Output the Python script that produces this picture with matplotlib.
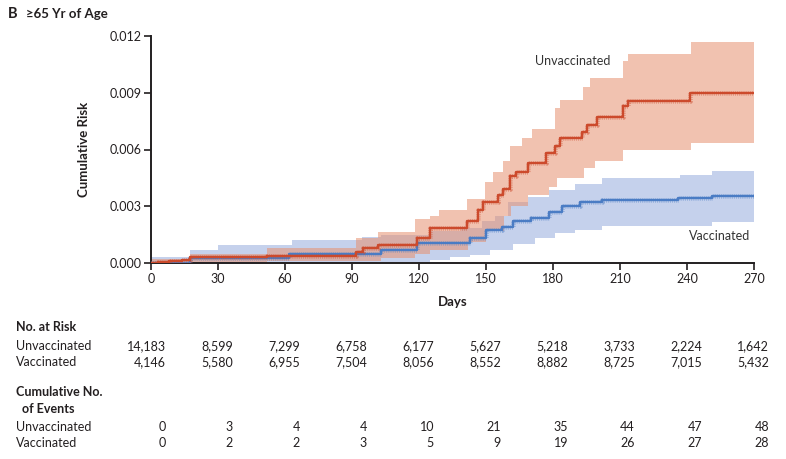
import matplotlib
matplotlib.use("Agg")
import matplotlib.pyplot as plt
import matplotlib.transforms as mtransforms

plt.rcParams['font.family'] = ['Lato', 'DejaVu Sans']

# ---------------- data ----------------
days_ticks = [0, 30, 60, 90, 120, 150, 180, 210, 240, 270]
risk_ticks = [0.000, 0.003, 0.006, 0.009, 0.012]

unvax_t = [0, 3, 8, 14, 17.5, 52, 92, 95, 101.5, 119, 125, 141.5, 146.5, 148.7, 155.5,
           157.6, 160.6, 163.6, 168.8, 177, 181, 183, 193, 195, 199.5, 211.5, 213.5, 241.5, 270]
unvax_v = [0, 0.00005, 0.0001, 0.00017, 0.0003, 0.00037, 0.0006, 0.0008, 0.00095, 0.0013,
           0.00185, 0.0022, 0.0028, 0.0032, 0.0036, 0.0039, 0.0046, 0.0048, 0.0053, 0.0058,
           0.0062, 0.0066, 0.0069, 0.0073, 0.0077, 0.0083, 0.00858, 0.0090, 0.0090]

unvax_up_t = [0, 17.5, 52, 92, 101.5, 118, 125, 129, 141.5, 149.6, 153, 157.6, 160.8, 166,
              170.5, 181, 183, 193.5, 196.6, 211.5, 213.6, 241.7, 270]
unvax_up_v = [0.0002, 0.00048, 0.00078, 0.0013, 0.00165, 0.0023, 0.0025, 0.0028, 0.0034,
              0.0043, 0.0048, 0.0054, 0.0062, 0.0066, 0.0071, 0.0082, 0.0086, 0.0093, 0.0098,
              0.0107, 0.01105, 0.01167, 0.01167]

unvax_lo_t = [0, 17.5, 52, 92, 103, 118, 125, 142, 150, 158, 161, 169, 178, 182, 194, 199,
              211.5, 241.7, 270]
unvax_lo_v = [0, 0.00005, 0.0001, 0.0001, 0.00026, 0.0005, 0.0007, 0.0011, 0.0017, 0.0025,
              0.0030, 0.0036, 0.0040, 0.0045, 0.0050, 0.0054, 0.0060, 0.00636, 0.00636]

vax_t = [0, 17.5, 62, 103, 119, 143, 150, 157, 162, 170, 178, 184, 192, 201.8, 236, 251, 270]
vax_v = [0, 0.00025, 0.0005, 0.0007, 0.00105, 0.0013, 0.00175, 0.0019, 0.0022, 0.0024,
         0.0027, 0.0030, 0.0032, 0.00333, 0.00342, 0.00356, 0.00356]

vax_up_t = [0, 17.5, 30, 63, 94.3, 103, 125, 139, 148, 154, 160, 169, 178, 190, 202, 237,
            251, 270]
vax_up_v = [0.00033, 0.0007, 0.00095, 0.0012, 0.0014, 0.0015, 0.0017, 0.00185, 0.0022,
            0.0025, 0.0032, 0.0035, 0.00386, 0.0042, 0.00448, 0.00465, 0.00488, 0.00488]

vax_lo_t = [0, 90, 101, 125, 134, 143, 152, 162, 172, 181, 190, 202, 251, 270]
vax_lo_v = [0, 0, 0.00005, 0.00016, 0.0003, 0.0004, 0.0007, 0.0010, 0.0013, 0.0016,
            0.00175, 0.00196, 0.00218, 0.00218]

at_risk_unvax = ["14,183", "8,599", "7,299", "6,758", "6,177", "5,627", "5,218", "3,733", "2,224", "1,642"]
at_risk_vax = ["4,146", "5,580", "6,955", "7,504", "8,056", "8,552", "8,882", "8,725", "7,015", "5,432"]
events_unvax = ["0", "3", "4", "4", "10", "21", "35", "44", "47", "48"]
events_vax = ["0", "2", "2", "3", "5", "9", "19", "26", "27", "28"]

# ---------------- figure ----------------
W, H = 786, 459
fig = plt.figure(figsize=(W / 100, H / 100), dpi=100)
ax = fig.add_axes([151 / W, 1 - 263 / H, (754 - 151) / W, (263 - 36) / H])

txt = '#231f20'
red_line = '#cc4a2c'
red_fill = '#e6906f'
blue_line = '#4a7cc4'
blue_fill = '#90a8dc'


def band(t_up, v_up, t_lo, v_lo, color, alpha, z):
    ts = sorted(set(t_up) | set(t_lo))
    up = [v_up[max(i for i, tt in enumerate(t_up) if tt <= t)] for t in ts]
    lo = [v_lo[max(i for i, tt in enumerate(t_lo) if tt <= t)] for t in ts]
    ax.fill_between(ts, lo, up, step='post', color=color, alpha=alpha, lw=0, zorder=z)


band(vax_up_t, vax_up_v, vax_lo_t, vax_lo_v, blue_fill, 0.52, 1)
band(unvax_up_t, unvax_up_v, unvax_lo_t, unvax_lo_v, red_fill, 0.55, 2)

for t, v, c, z in [(vax_t, vax_v, blue_line, 3), (unvax_t, unvax_v, red_line, 4)]:
    ax.step(t, v, where='post', color=c, lw=1.7, zorder=z)
    # dense censoring tick marks
    ax.step(t, v, where='post', color=c, lw=3.4, alpha=0.5, zorder=z,
            dashes=(0.14, 0.26), dash_capstyle='butt')

ax.set_xlim(0, 270)
ax.set_ylim(0, 0.012)
ax.set_xticks(days_ticks)
ax.set_yticks(risk_ticks)
ax.set_yticklabels([f"{v:.3f}" for v in risk_ticks])
for s in ['top', 'right']:
    ax.spines[s].set_visible(False)
for s in ['left', 'bottom']:
    ax.spines[s].set_linewidth(1.4)
    ax.spines[s].set_color(txt)
ax.tick_params(direction='out', length=5, width=1.2, colors=txt, labelsize=9, pad=2)
ax.set_xlabel("Days", fontsize=9.5, fontweight='bold', color=txt, labelpad=8)
ax.set_ylabel("Cumulative Risk", fontsize=9.5, fontweight='bold', color=txt, labelpad=14)

fig.text(535 / W, 1 - 61 / H, "Unvaccinated", fontsize=9, color='#333333', va='center', ha='left')
fig.text(750 / W, 1 - 236 / H, "Vaccinated", fontsize=9, color='#333333', va='center', ha='right')

# title
fig.text(8 / W, 1 - 14 / H, "B", fontsize=10.5, fontweight='bold', color=txt, va='center')
fig.text(26 / W, 1 - 14 / H, "≥65 Yr of Age", fontsize=9.5, fontweight='bold', color=txt, va='center')

# risk table
fs = 9
fig.text(16 / W, 1 - 327 / H, "No. at Risk", fontsize=fs, fontweight='bold', color=txt, va='center')
fig.text(16 / W, 1 - 346 / H, "Unvaccinated", fontsize=fs, color=txt, va='center')
fig.text(16 / W, 1 - 362 / H, "Vaccinated", fontsize=fs, color=txt, va='center')
fig.text(16 / W, 1 - 392 / H, "Cumulative No.", fontsize=fs, fontweight='bold', color=txt, va='center')
fig.text(22 / W, 1 - 409 / H, "of Events", fontsize=fs, fontweight='bold', color=txt, va='center')
fig.text(16 / W, 1 - 427 / H, "Unvaccinated", fontsize=fs, color=txt, va='center')
fig.text(16 / W, 1 - 443 / H, "Vaccinated", fontsize=fs, color=txt, va='center')

tr = mtransforms.blended_transform_factory(ax.transData, fig.transFigure)
tr = tr + mtransforms.ScaledTranslation(15 / 100, 0, fig.dpi_scale_trans)
rows = [(at_risk_unvax, 346), (at_risk_vax, 362), (events_unvax, 427), (events_vax, 443)]
for vals, ypx in rows:
    for d, s in zip(days_ticks, vals):
        ax.text(d, 1 - ypx / H, s, transform=tr, fontsize=fs, color=txt,
                ha='right', va='center', clip_on=False)

fig.savefig("out.png", dpi=100)
